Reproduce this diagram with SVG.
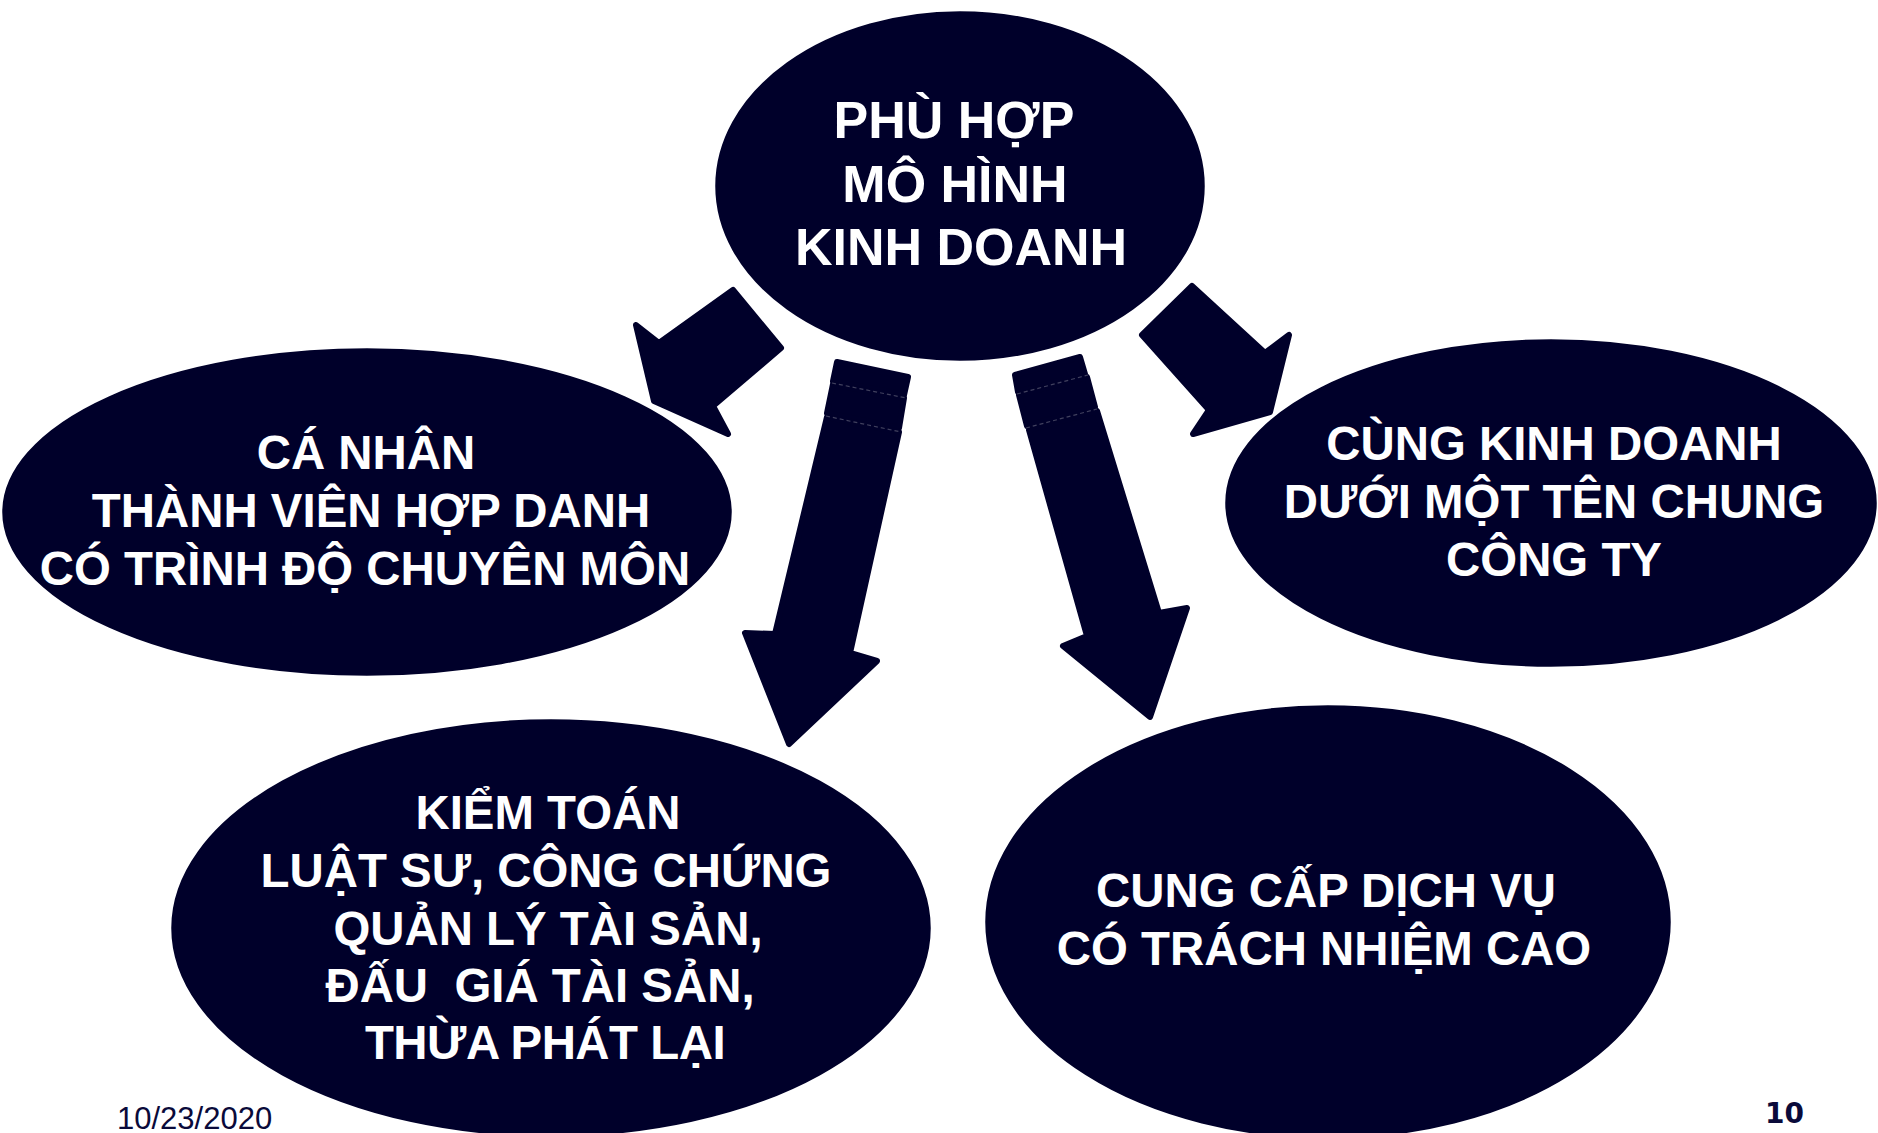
<svg xmlns="http://www.w3.org/2000/svg" width="1878" height="1133" viewBox="0 0 1878 1133">
<style>
.bg{fill:#ffffff}
.node{fill:#00002A;stroke:#ffffff;stroke-width:2.5}
.arrow{fill:#00002A;stroke:#00002A;stroke-width:6;stroke-linejoin:round}
.sep{fill:none;stroke:#40405e;stroke-width:1.2;stroke-dasharray:4 3}
.lbl{font-family:"Liberation Sans",Arial,sans-serif;font-weight:bold;fill:#ffffff;text-anchor:middle}
.t52{font-size:52px}
.t48{font-size:47.4px}
.foot{font-family:"Liberation Sans",Arial,sans-serif;fill:#0a0a3a}
</style>
<rect class="bg" x="0" y="0" width="1878" height="1133"/>
<g id="connectors">
  <polygon class="arrow" points="733,290 781,348 713,406 728,434 654,401 636,325 659,343"/>
  <polygon class="arrow" points="1192,286 1265,353 1289,335 1270,412 1193,434 1209,410 1142,335"/>
  <polygon class="arrow" points="837,362 908,377 904,395 833,381"/>
  <polygon class="arrow" points="833,384 904,398 899,428 827,413"/>
  <polygon class="arrow" points="827,417 899,432 850,653 877,661 789,744 745,633 775,634"/>
  <line class="sep" x1="832" y1="383" x2="906" y2="398"/>
  <line class="sep" x1="826" y1="416" x2="901" y2="432"/>
  <polygon class="arrow" points="1015,375 1080,357 1085,374 1018,392"/>
  <polygon class="arrow" points="1019,395 1087,377 1095,407 1027,426"/>
  <polygon class="arrow" points="1029,430 1097,411 1159,613 1187,608 1150,717 1063,646 1087,636"/>
  <line class="sep" x1="1017" y1="394" x2="1088" y2="375"/>
  <line class="sep" x1="1026" y1="428" x2="1097" y2="409"/>
</g>
<g id="node-top">
  <ellipse class="node" cx="960" cy="186" rx="246" ry="176"/>
  <text class="lbl t52" x="954" y="138">PHÙ HỢP</text>
  <text class="lbl t52" x="955" y="202">MÔ HÌNH</text>
  <text class="lbl t52" x="961" y="265">KINH DOANH</text>
</g>
<g id="node-left">
  <ellipse class="node" cx="367" cy="512" rx="366" ry="165"/>
  <text class="lbl t48" x="366" y="469">CÁ NHÂN</text>
  <text class="lbl t48" x="371" y="527">THÀNH VIÊN HỢP DANH</text>
  <text class="lbl t48" x="365" y="585">CÓ TRÌNH ĐỘ CHUYÊN MÔN</text>
</g>
<g id="node-right">
  <ellipse class="node" cx="1551" cy="503" rx="327" ry="165"/>
  <text class="lbl t48" x="1554" y="460">CÙNG KINH DOANH</text>
  <text class="lbl t48" x="1554" y="518">DƯỚI MỘT TÊN CHUNG</text>
  <text class="lbl t48" x="1554" y="576">CÔNG TY</text>
</g>
<g id="node-bottom-left">
  <ellipse class="node" cx="551" cy="928" rx="381" ry="210"/>
  <text class="lbl t48" x="548" y="829">KIỂM TOÁN</text>
  <text class="lbl t48" x="546" y="887">LUẬT SƯ, CÔNG CHỨNG</text>
  <text class="lbl t48" x="548" y="945">QUẢN LÝ TÀI SẢN,</text>
  <text class="lbl t48" x="540" y="1002" xml:space="preserve">ĐẤU  GIÁ TÀI SẢN,</text>
  <text class="lbl t48" x="545" y="1059" letter-spacing="-0.5">THỪA PHÁT LẠI</text>
</g>
<g id="node-bottom-right">
  <ellipse class="node" cx="1328" cy="922" rx="344" ry="218"/>
  <text class="lbl t48" x="1326" y="907">CUNG CẤP DỊCH VỤ</text>
  <text class="lbl t48" x="1324" y="965">CÓ TRÁCH NHIỆM CAO</text>
</g>
<text class="foot" x="117" y="1129" font-size="31">10/23/2020</text>
<text x="1765" y="1123" font-family="'DejaVu Sans',Verdana,sans-serif" font-size="28" font-weight="bold" fill="#0a0a3a">10</text>
</svg>
